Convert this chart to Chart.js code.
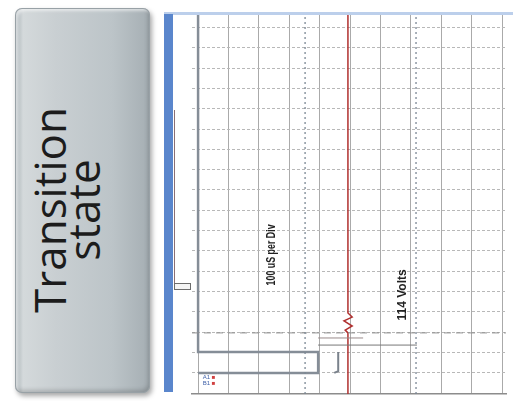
<!DOCTYPE html>
<html>
<head>
<meta charset="utf-8">
<script src="https://cdn.jsdelivr.net/npm/chart.js@4.4.1/dist/chart.umd.min.js"></script>
<style>
  body { margin: 0; width: 520px; height: 401px; background: #fff; position: relative; overflow: hidden; }
  #box {
    position: absolute; left: 15px; top: 8px; width: 135px; height: 385px; border-radius: 7px;
    background: linear-gradient(to right, #a6afb4 0%, #d4d9db 6%, #c9cfd2 30%, #bcc4c8 72%, #a5aeb3 100%);
    box-shadow: inset 0 0 0 1px #98a1a6, inset 3px 3px 3px rgba(255,255,255,0.55),
                inset -2px -3px 4px rgba(0,0,0,0.18), 2px 3px 5px rgba(0,0,0,0.35);
  }
  #label {
    position: absolute; left: -79px; top: 168px; width: 260px; height: 68px;
    transform: rotate(-90deg); text-align: center;
    font-family: "Open Sans", sans-serif; font-size: 44px; line-height: 34px; color: #1c1c1c;
  }
  #blueBar { position: absolute; left: 164px; top: 14px; width: 9px; height: 378px; background: #5a86cc; }
  #topLine { position: absolute; left: 164px; top: 12px; width: 349px; height: 3px; background: #bccfeb; }
  #probe { position: absolute; left: 174px; top: 110px; width: 1px; height: 176px; background: #8a6f74; }
  #probeMark { position: absolute; left: 174px; top: 283px; width: 15px; height: 5px; border: 1px solid #6c6c6c; background: #f4f4f4; }
  #wrap { position: absolute; left: 170px; top: 0; width: 350px; height: 401px; }
</style>
</head>
<body>
<div id="box"><div id="label">Transition<br>state</div></div>
<div id="topLine"></div>
<div id="blueBar"></div>
<div id="wrap"><canvas id="scope" width="350" height="401"></canvas></div>
<div id="probe"></div>
<div id="probeMark"></div>
<script>
  // grid divisions
  const xTicks = [0, 1, 2, 3, 4, 5, 6, 7, 8, 9, 10];
  const yTicks = [1, 2, 3, 4, 5, 6, 7, 8, 9, 10, 11, 12, 13, 14, 15, 16, 17, 18];

  // channel traces, in divisions
  const chanAX = [0, 0, 3.95, 3.95, 0];
  const chanAY = [18.7, 2.02, 2.02, 0.99, 0.99];
  const hookX = [4.61, 4.61, 4.48];
  const hookY = [2.02, 1.08, 0.99];
  const redX = [4.93, 4.93, 5.07, 4.80, 5.07, 4.84, 4.93, 4.93];
  const redY = [18.7, 3.94, 3.74, 3.55, 3.30, 3.10, 2.96, -0.1];
  const stepOneX = [3.95, 5.43];
  const stepOneY = [2.71, 2.71];
  const stepTwoX = [3.95, 7.2];
  const stepTwoY = [2.36, 2.36];

  // cursors
  const cursorVX = [3.52, 7.17];
  const cursorHY = [2.96];

  // notes on the screen
  const noteText = ["100 uS per Div", "114 Volts"];
  const noteX = [2.43, 6.74];
  const noteY = [6.8, 4.83];

  const xMin = -0.2, xMax = 10.13, yMin = -0.05, yMax = 18.62;

  const pts = (xs, ys) => xs.map((x, i) => ({ x, y: ys[i] }));

  const traceSet = (data, color, width, dash) => ({
    data, borderColor: color, borderWidth: width, borderDash: dash || [],
    showLine: true, pointRadius: 0, fill: false, tension: 0
  });

  const datasets = [
    ...cursorVX.map(v => traceSet(pts([v, v], [yMin, yMax]), "#7b8794", 1.3, [2, 3])),
    ...cursorHY.map(v => traceSet(pts([xMin, xMax], [v, v]), "#8f8f8f", 1, [7, 5])),
    traceSet(pts(stepOneX, stepOneY), "#9a8a8a", 1),
    traceSet(pts(stepTwoX, stepTwoY), "#777", 1),
    traceSet(pts(chanAX, chanAY), "#858d97", 2.5),
    traceSet(pts(hookX, hookY), "#7a828c", 2),
    traceSet(pts(redX, redY), "#b0302f", 1.5)
  ];

  const notes = {
    id: "notes",
    afterDatasetsDraw(chart) {
      const { ctx, scales } = chart;
      ctx.save();
      ctx.fillStyle = "#222";
      ctx.font = 'bold 12px "Liberation Sans", Arial, sans-serif';
      ctx.textAlign = "center";
      ctx.textBaseline = "middle";
      noteText.forEach((t, i) => {
        ctx.save();
        ctx.translate(scales.x.getPixelForValue(noteX[i]), scales.y.getPixelForValue(noteY[i]));
        ctx.rotate(-Math.PI / 2);
        ctx.fillText(t, 0, 0, i === 0 ? 61 : 55);
        ctx.restore();
      });
      // channel tags bottom left
      ctx.font = '6px "Liberation Sans", Arial, sans-serif';
      ctx.textAlign = "left";
      const lx = scales.x.getPixelForValue(0.15), ly = scales.y.getPixelForValue(0.75);
      ctx.fillStyle = "#3d5fa8";
      ctx.fillText("A1", lx, ly);
      ctx.fillText("B1", lx, ly + 6);
      ctx.fillStyle = "#d04040";
      ctx.fillText("\u25A0", lx + 9, ly);
      ctx.fillText("\u25A0", lx + 9, ly + 6);
      ctx.restore();
    }
  };

  new Chart(document.getElementById("scope"), {
    type: "scatter",
    data: { datasets },
    options: {
      responsive: false,
      animation: false,
      layout: { padding: { left: 22, right: 14, top: 15, bottom: 7 } },
      plugins: { legend: { display: false }, tooltip: { enabled: false } },
      scales: {
        x: {
          type: "linear", min: xMin, max: xMax,
          afterBuildTicks: axis => { axis.ticks = xTicks.map(value => ({ value })); },
          ticks: { display: false },
          grid: { color: "#aaaaaa", lineWidth: 1, drawTicks: false },
          border: { display: true, color: "#8c8c8c", width: 1.5 }
        },
        y: {
          type: "linear", min: yMin, max: yMax,
          afterBuildTicks: axis => { axis.ticks = yTicks.map(value => ({ value })); },
          ticks: { display: false },
          grid: { color: "#b8b8b8", lineWidth: 1, drawTicks: false },
          border: { display: false, dash: [3, 2] }
        }
      }
    },
    plugins: [notes]
  });
</script>
</body>
</html>
